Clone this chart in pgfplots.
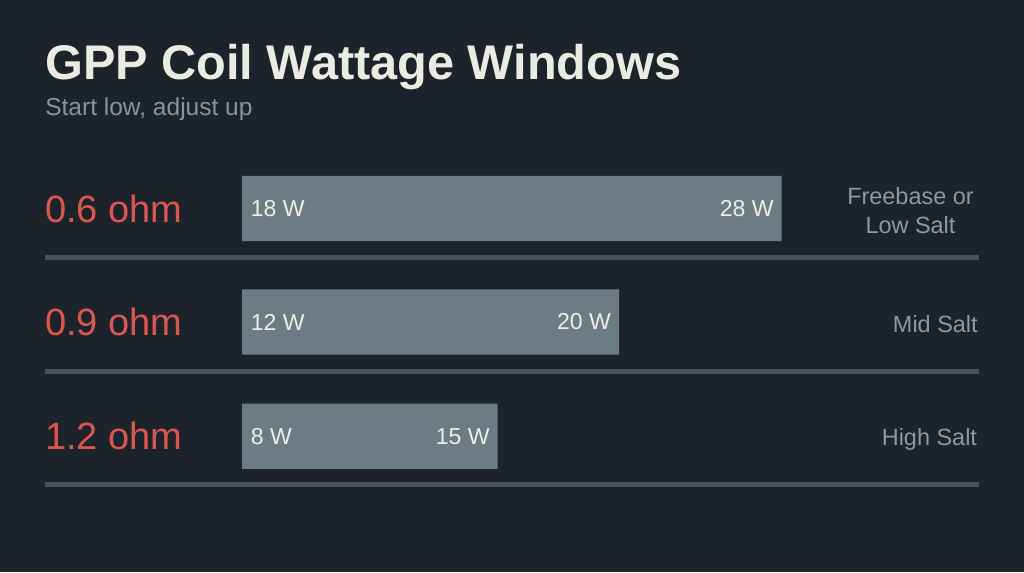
\documentclass[border=0pt]{standalone}
\usepackage{pgfplots}
\pgfplotsset{compat=1.18}
\usepackage{pgfplotstable}
\usepackage{fontspec}
\setmainfont{Liberation Sans}
\definecolor{bgc}{HTML}{1C232A}
\definecolor{barc}{HTML}{6D7B84}
\definecolor{titc}{HTML}{ECEBE3}
\definecolor{subc}{HTML}{8C9399}
\definecolor{redc}{HTML}{D9574F}
\definecolor{wtxt}{HTML}{EEEEE8}
\definecolor{notec}{HTML}{8F989E}
\definecolor{linec}{HTML}{4A5157}
% pos = row centre, len = drawn bar length, lo/hi = wattage window
\pgfplotstableread{
pos len lo hi
208.5 539.7 18 28
322.0 377.0 12 20
436.2 255.7 8 15
}\bars
\begin{document}
\begin{tikzpicture}
\begin{axis}[
  at={(0,0)}, anchor=south west,
  scale only axis, width=768pt, height=429pt,
  xmin=-242, xmax=782, ymin=0, ymax=572, y dir=reverse,
  axis line style={draw=none}, xtick=\empty, ytick=\empty,
  axis background/.style={fill=bgc},
  clip=false,
]
\draw[linec, line width=3.75pt] (axis cs:-197,257.5) -- (axis cs:737,257.5);
\draw[linec, line width=3.75pt] (axis cs:-197,371) -- (axis cs:737,371);
\draw[linec, line width=3.75pt] (axis cs:-197,484.7) -- (axis cs:737,484.7);
\addplot[xbar, bar width=49pt, fill=barc, draw=none,
  point meta=explicit symbolic,
  nodes near coords={\pgfplotspointmeta\ W},
  nodes near coords style={anchor=east, xshift=-5.8pt, inner sep=0pt, text=wtxt,
     font=\fontsize{17.3}{20}\selectfont}]
  table[x=len, y=pos, meta=hi] {\bars};
\addplot[draw=none, mark=none,
  point meta=explicit symbolic,
  nodes near coords={\pgfplotspointmeta\ W},
  nodes near coords style={anchor=west, xshift=6.4pt, inner sep=0pt, text=wtxt,
     font=\fontsize{17.3}{20}\selectfont}]
  table[x expr=0, y=pos, meta=lo] {\bars};
\node[anchor=base west, inner sep=0pt, text=titc, font=\fontsize{36.5}{40}\selectfont\bfseries]
  at (axis cs:-197,79) {GPP Coil Wattage Windows};
\node[anchor=base west, inner sep=0pt, text=subc, font=\fontsize{18.4}{22}\selectfont]
  at (axis cs:-197,115) {Start low, adjust up};
\node[anchor=base west, inner sep=0pt, text=redc, font=\fontsize{28.5}{32}\selectfont]
  at (axis cs:-197,222.3) {0.6 ohm};
\node[anchor=base west, inner sep=0pt, text=redc, font=\fontsize{28.5}{32}\selectfont]
  at (axis cs:-197,335.8) {0.9 ohm};
\node[anchor=base west, inner sep=0pt, text=redc, font=\fontsize{28.5}{32}\selectfont]
  at (axis cs:-197,449.8) {1.2 ohm};
\node[anchor=base, inner sep=0pt, text=notec, font=\fontsize{17.6}{22}\selectfont]
  at (axis cs:668.5,204.3) {Freebase or};
\node[anchor=base, inner sep=0pt, text=notec, font=\fontsize{17.6}{22}\selectfont]
  at (axis cs:668.5,233.3) {Low Salt};
\node[anchor=base east, inner sep=0pt, text=notec, font=\fontsize{17.6}{22}\selectfont]
  at (axis cs:736,332) {Mid Salt};
\node[anchor=base east, inner sep=0pt, text=notec, font=\fontsize{17.6}{22}\selectfont]
  at (axis cs:735.3,445.7) {High Salt};
\end{axis}
\end{tikzpicture}
\end{document}
